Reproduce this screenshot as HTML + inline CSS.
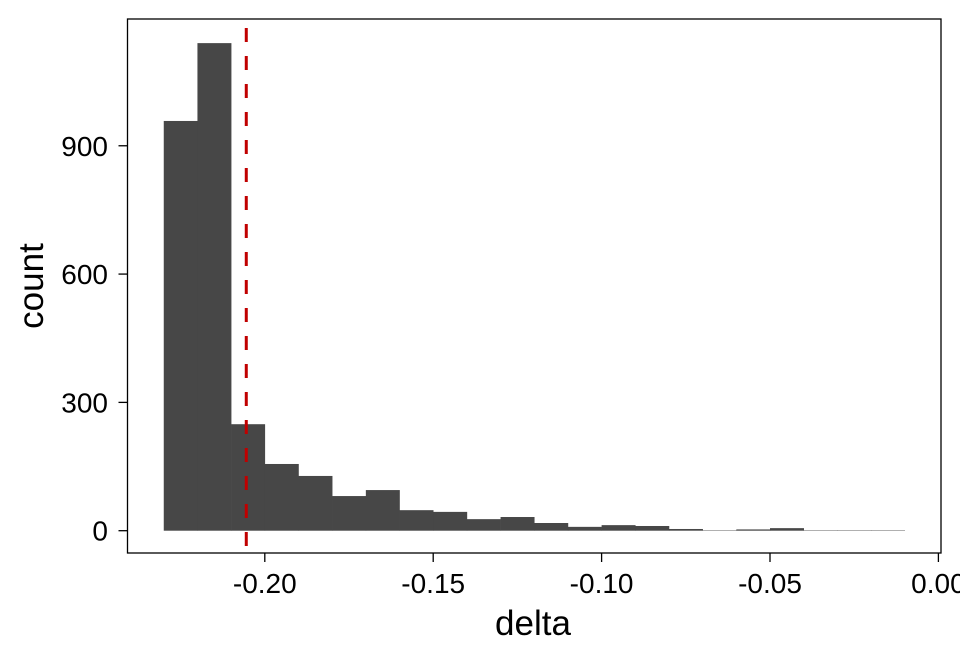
<!DOCTYPE html>
<html><head><meta charset="utf-8"><style>
body{margin:0;background:#fff;width:960px;height:660px;overflow:hidden}
text{font-family:"Liberation Sans",Arial,sans-serif}
</style></head><body>
<svg id="chart" width="960" height="660"></svg>
<script>
const binStarts = [-0.23,-0.22,-0.21,-0.20,-0.19,-0.18,-0.17,-0.16,-0.15,-0.14,-0.13,-0.12,-0.11,-0.10,-0.09,-0.08,-0.07,-0.06,-0.05,-0.04,-0.03,-0.02];
const counts = [958,1140,249,156,128,81,95,48,44,27,32,18,9,13,11,4,1,3,6,1,1,1];
const binWidth = 0.01;
const refLine = -0.2055;
const xTicks = [-0.20,-0.15,-0.10,-0.05,0.00];
const xTickLabels = ["-0.20","-0.15","-0.10","-0.05","0.00"];
const yTicks = [0,300,600,900];
const yTickLabels = ["0","300","600","900"];

const NS="http://www.w3.org/2000/svg";
const svg=document.getElementById('chart');
const L=127.5,R=941,T=19,B=553;
const xs=v=>938.4+(v-0)*3368;
const ys=v=>530.7-v*0.4277;
function mk(tag,attrs,parent){const e=document.createElementNS(NS,tag);for(const k in attrs)e.setAttribute(k,attrs[k]);(parent||svg).appendChild(e);return e;}

const bars=mk('g',{});


binStarts.forEach((b,i)=>{
  const x0=xs(b),x1=xs(b+binWidth),y=ys(counts[i]);
  const r=mk('rect',{x:x0,y:y,width:x1-x0+0.3,height:ys(0)-y,fill:'#474747'},bars);
  
  
});
const dl=mk('line',{x1:xs(refLine),x2:xs(refLine),y1:T+9,y2:B,stroke:'#c00000','stroke-width':3,'stroke-dasharray':'14 14'});



const frame=mk('rect',{x:L,y:T,width:R-L,height:B-T,fill:'none',stroke:'#000','stroke-width':1.3});



xTicks.forEach((v,i)=>{
  const x=xs(v);
  mk('line',{x1:x,x2:x,y1:B,y2:B+9,stroke:'#000','stroke-width':1.3});
  const t=mk('text',{x:x,y:593,'font-size':28,'text-anchor':'middle',fill:'#000'});
  t.textContent=xTickLabels[i];
  
  
});
yTicks.forEach((v,i)=>{
  const y=ys(v);
  mk('line',{x1:L-9,x2:L,y1:y,y2:y,stroke:'#000','stroke-width':1.3});
  const t=mk('text',{x:108,y:y+10,'font-size':28,'text-anchor':'end',fill:'#000'});
  t.textContent=yTickLabels[i];
  
  
});
const xt=mk('text',{x:533,y:635,'font-size':35,'text-anchor':'middle',fill:'#000'});
xt.textContent='delta';


const yt=mk('text',{x:0,y:0,'font-size':35,'text-anchor':'middle',fill:'#000',transform:'translate(43,286) rotate(-90)'});
yt.textContent='count';


</script>
</body></html>
